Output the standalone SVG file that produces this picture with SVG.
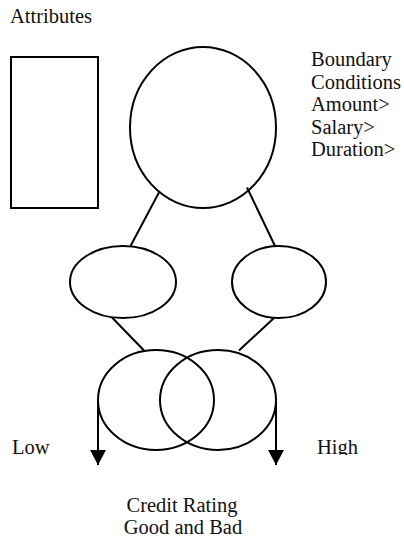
<svg xmlns="http://www.w3.org/2000/svg" width="404" height="542" viewBox="0 0 404 542">
  <style>
    .shape { fill: none; stroke: #000; stroke-width: 2; }
    .link { stroke: #000; stroke-width: 2; fill: none; }
    .label { font-family: "Liberation Serif", "Times New Roman", serif; font-size: 20.5px; fill: #111; }
  </style>
  <defs>
    <!-- filled triangular head, drawn along +x so orient="auto" points it down the line -->
    <marker id="head" markerWidth="16" markerHeight="16" refX="15" refY="8" orient="auto" markerUnits="userSpaceOnUse" viewBox="0 0 16 16">
      <polygon points="0,0 15,8 0,16" fill="#000"/>
    </marker>
    <clipPath id="cutBottom">
      <rect x="0" y="0" width="404" height="455"/>
    </clipPath>
  </defs>
  <rect width="404" height="542" fill="#fff"/>

  <g id="attributes">
    <text class="label" x="10" y="23">Attributes</text>
    <rect class="shape" x="11" y="57" width="87" height="151"/>
  </g>

  <g id="boundary-conditions">
    <text class="label" x="311" y="66">Boundary</text>
    <text class="label" x="311" y="88.5">Conditions</text>
    <text class="label" x="311" y="111">Amount&gt;</text>
    <text class="label" x="311" y="133.5">Salary&gt;</text>
    <text class="label" x="311" y="156">Duration&gt;</text>
  </g>

  <g id="root">
    <ellipse class="shape" cx="203" cy="127.5" rx="73" ry="80.5"/>
  </g>

  <g id="branch-left">
    <ellipse class="shape" cx="123" cy="282" rx="53" ry="36"/>
  </g>

  <g id="branch-right">
    <ellipse class="shape" cx="279" cy="282" rx="47" ry="36"/>
  </g>

  <g id="rating-low">
    <ellipse class="shape" cx="156" cy="400" rx="58" ry="50"/>
  </g>

  <g id="rating-high">
    <ellipse class="shape" cx="218" cy="400" rx="58" ry="50"/>
  </g>

  <g id="connectors">
    <line class="link" x1="159.5" y1="191.5" x2="130.5" y2="246"/>
    <line class="link" x1="247" y1="187.5" x2="275" y2="246"/>
    <line class="link" x1="112" y1="317.5" x2="144" y2="350.5"/>
    <line class="link" x1="274" y1="318" x2="239" y2="350.5"/>
    <line class="link" x1="98" y1="402" x2="98" y2="465" marker-end="url(#head)"/>
    <line class="link" x1="276" y1="402" x2="276" y2="465" marker-end="url(#head)"/>
  </g>

  <g id="scale-labels">
    <text class="label" x="12" y="454">Low</text>
    <text class="label" x="317" y="453.5" clip-path="url(#cutBottom)">High</text>
  </g>

  <g id="credit-rating">
    <text class="label" x="182" y="512" text-anchor="middle">Credit Rating</text>
    <text class="label" x="183" y="534" text-anchor="middle">Good and Bad</text>
  </g>
</svg>
